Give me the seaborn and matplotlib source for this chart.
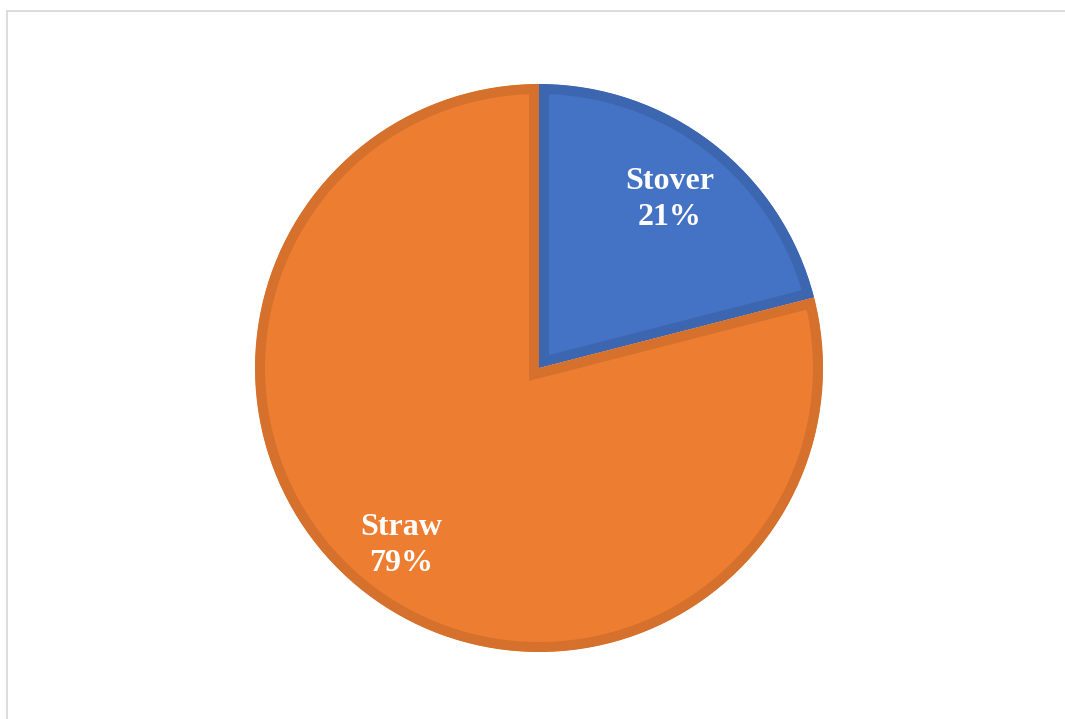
import numpy as np
import matplotlib
matplotlib.use("Agg")
import matplotlib.pyplot as plt
from matplotlib.patches import Rectangle
import seaborn as sns

# Residue shares
categories = ["Stover", "Straw"]
shares = [21, 79]
fill_colors = ["#4472C4", "#ED7D31"]
edge_colors = ["#3D66B0", "#D5712C"]

sns.set_theme(style="white")
plt.rcParams["font.family"] = ["Liberation Serif", "DejaVu Serif"]

W, H = 1065, 719
fig = plt.figure(figsize=(W / 100, H / 100), dpi=100)
fig.patch.set_facecolor("white")

# Pie placement (pixels): centre and radius
cx, cy, r = 539, 368, 284
pad = 1.02
half = r * pad
ax = fig.add_axes([(cx - half) / W, (H - cy - half) / H, 2 * half / W, 2 * half / H])

labels = [f"{c}\n{s}%" for c, s in zip(categories, shares)]
wedges, texts = ax.pie(
    shares,
    labels=labels,
    colors=fill_colors,
    startangle=90,
    counterclock=False,
    labeldistance=0.77,
    textprops=dict(color="white", fontsize=23, fontweight="bold",
                   ha="center", va="center", linespacing=1.3),
    wedgeprops=dict(linewidth=14.4),
)

# Inner borders: a wide stroke clipped to each wedge's own outline
for w, ec in zip(wedges, edge_colors):
    w.set_edgecolor(ec)
    w.set_joinstyle("miter")
    w.set_clip_on(True)
    w.set_clip_path(w)

# Label distance from the centre, per slice
label_dist = [0.75, 0.79]
for w, t, d in zip(wedges, texts, label_dist):
    mid = np.deg2rad((w.theta1 + w.theta2) / 2)
    t.set_position((d * np.cos(mid), d * np.sin(mid)))

ax.set_xlim(-pad, pad)
ax.set_ylim(-pad, pad)
ax.set_aspect("equal")
ax.axis("off")

# Chart-area frame
frame = Rectangle((6.5 / W, -0.05), 1.1, 1.05 - 10.5 / H,
                  transform=fig.transFigure, fill=False,
                  edgecolor="#D9D9D9", linewidth=1.3)
fig.patches.append(frame)

fig.savefig("out.png", dpi=100, facecolor="white")
